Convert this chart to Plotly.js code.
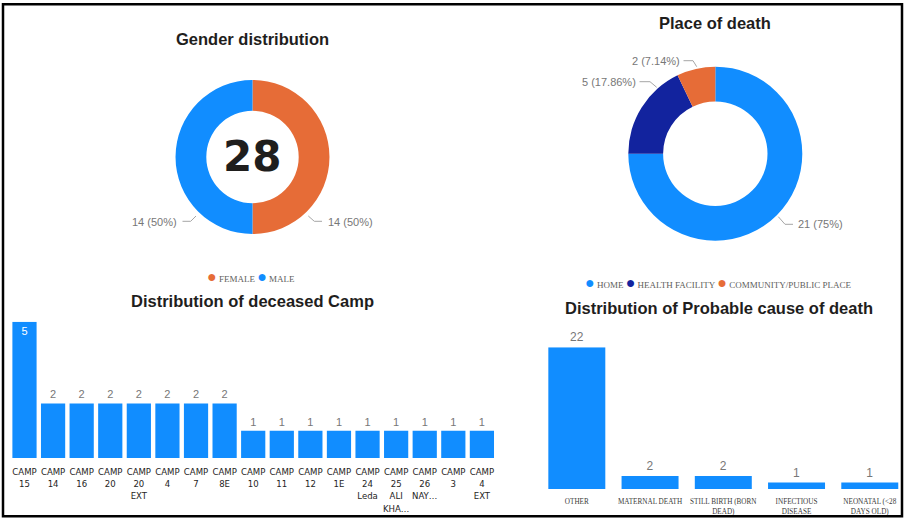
<!DOCTYPE html>
<html>
<head>
<meta charset="utf-8">
<script src="https://cdn.plot.ly/plotly-3.0.1.min.js"></script>
<style>
  html, body { margin: 0; padding: 0; background: #fff; }
  #chart { width: 907px; height: 519px; }
</style>
</head>
<body>
<div id="chart"></div>
<script>
// Gender donut
const genderLabels = ['FEMALE', 'MALE'];
const genderValues = [14, 14];

// Place of death donut
const placeLabels = ['HOME', 'HEALTH FACILITY', 'COMMUNITY/PUBLIC PLACE'];
const placeValues = [21, 5, 2];

// Deceased per camp
const campLabels = ['CAMP 15', 'CAMP 14', 'CAMP 16', 'CAMP 20', 'CAMP 20 EXT', 'CAMP 4', 'CAMP 7', 'CAMP 8E',
    'CAMP 10', 'CAMP 11', 'CAMP 12', 'CAMP 1E', 'CAMP 24 Leda', 'CAMP 25 ALI KHA…', 'CAMP 26 NAY…', 'CAMP 3', 'CAMP 4 EXT'];
const campValues = [5, 2, 2, 2, 2, 2, 2, 2, 1, 1, 1, 1, 1, 1, 1, 1, 1];

// Probable cause of death
const causeLabels = ['OTHER', 'MATERNAL DEATH', 'STILL BIRTH (BORN DEAD)', 'INFECTIOUS DISEASE', 'NEONATAL (<28 DAYS OLD)'];
const causeTicks = ['OTHER', 'MATERNAL DEATH', 'STILL BIRTH (BORN<br>DEAD)', 'INFECTIOUS<br>DISEASE', 'NEONATAL (&lt;28<br>DAYS OLD)'];
const causeValues = [22, 2, 2, 1, 1];

const BLUE = '#118DFF', NAVY = '#12239E', ORANGE = '#E66C37';
const genderColors = { FEMALE: ORANGE, MALE: BLUE };
const placeColors = { 'HOME': BLUE, 'HEALTH FACILITY': NAVY, 'COMMUNITY/PUBLIC PLACE': ORANGE };

// pixel -> paper helpers
const W = 907, H = 519;
const X = px => px / W;
const Y = py => 1 - py / H;

const sum = arr => arr.reduce((a, b) => a + b, 0);
const pctLabel = (v, total) => `${v} (${Math.round(v / total * 10000) / 100}%)`;

const titleFont = { family: 'Liberation Sans, Arial, sans-serif', size: 16.5, color: '#1f1e1d' };
const labelFont = { family: 'Liberation Sans, Arial, sans-serif', size: 11, color: '#777777' };
const legendFont = { family: 'Liberation Serif, Times New Roman, serif', size: 9, color: '#605E5C' };

const data = [
    {
        type: 'pie',
        labels: genderLabels,
        values: genderValues,
        hole: 0.6,
        sort: false,
        direction: 'clockwise',
        rotation: 0,
        marker: { colors: genderLabels.map(l => genderColors[l]), line: { width: 0 } },
        textinfo: 'none',
        showlegend: false,
        domain: { x: [X(175.5), X(329.5)], y: [Y(234), Y(80)] }
    },
    {
        type: 'pie',
        labels: placeLabels,
        values: placeValues,
        hole: 0.6,
        sort: false,
        direction: 'clockwise',
        rotation: 0,
        marker: { colors: placeLabels.map(l => placeColors[l]), line: { width: 0 } },
        textinfo: 'none',
        showlegend: false,
        domain: { x: [X(628.3), X(802.3)], y: [Y(240.7), Y(66.7)] }
    },
    {
        type: 'bar',
        x: campLabels,
        y: campValues,
        xaxis: 'x',
        yaxis: 'y',
        width: 0.847,
        marker: { color: BLUE },
        text: campValues.map(String),
        textposition: campValues.map(v => v === Math.max(...campValues) ? 'inside' : 'outside'),
        insidetextanchor: 'end',
        textangle: 0,
        insidetextfont: { family: labelFont.family, size: 11, color: '#ffffff' },
        outsidetextfont: labelFont,
        cliponaxis: false,
        hoverinfo: 'x+y'
    },
    {
        type: 'bar',
        x: causeLabels,
        y: causeValues,
        xaxis: 'x2',
        yaxis: 'y2',
        width: 0.778,
        marker: { color: BLUE },
        text: causeValues.map(String),
        textposition: 'outside',
        textangle: 0,
        outsidetextfont: { family: labelFont.family, size: 12, color: '#777777' },
        cliponaxis: false,
        hoverinfo: 'x+y'
    }
];

const gTotal = sum(genderValues);
const pTotal = sum(placeValues);

const dot = c => `<span style="color:${c};font-size:16px">●</span>`;

const annotations = [
    // titles
    { text: '<b>Gender distribution</b>', x: X(252.5), y: Y(39), font: titleFont },
    { text: '<b>Place of death</b>', x: X(715.3), y: Y(23), font: titleFont },
    { text: '<b>Distribution of deceased Camp</b>', x: X(252), y: Y(301), font: titleFont },
    { text: '<b>Distribution of Probable cause of death</b>', x: X(719), y: Y(308), font: titleFont },
    // donut centre total
    { text: '<b>' + gTotal + '</b>', x: X(252), y: Y(156.5),
      font: { family: 'DejaVu Sans, sans-serif', size: 42, color: '#1f1e1d' } },
    // gender slice labels
    { text: pctLabel(genderValues[0], gTotal), x: X(325.7), y: Y(221.5), xanchor: 'left', font: labelFont },
    { text: pctLabel(genderValues[1], gTotal), x: X(178.5), y: Y(221.5), xanchor: 'right', font: labelFont },
    // place slice labels
    { text: pctLabel(placeValues[0], pTotal), x: X(796), y: Y(224.3), xanchor: 'left', font: labelFont },
    { text: pctLabel(placeValues[1], pTotal), x: X(637.5), y: Y(81.7), xanchor: 'right', font: labelFont },
    { text: pctLabel(placeValues[2], pTotal), x: X(681.7), y: Y(60.7), xanchor: 'right', font: labelFont },
    // legends
    { text: genderLabels.map(l => dot(genderColors[l]) + ' ' + l).join(' '), x: X(251.5), y: Y(276.7), font: legendFont },
    { text: placeLabels.map(l => dot(placeColors[l]) + ' ' + l).join(' '), x: X(583), y: Y(282.7), xanchor: 'left', font: legendFont }
].map(a => Object.assign({ xref: 'paper', yref: 'paper', showarrow: false, xanchor: 'center', yanchor: 'middle' }, a));

const leader = pts => ({
    type: 'path', xref: 'paper', yref: 'paper',
    path: pts.map((p, i) => (i ? 'L' : 'M') + X(p[0]) + ',' + Y(p[1])).join(' '),
    line: { color: '#A6A6A6', width: 1 }
});

const shapes = [
    leader([[308.3, 216], [314.3, 221.3], [322, 221.3]]),
    leader([[196, 216], [190.7, 221.3], [182.5, 221.3]]),
    leader([[778.3, 216.7], [785, 224.3], [793, 224.3]]),
    leader([[656.7, 87.3], [650, 81.7], [639.5, 81.7]]),
    leader([[696.7, 66.7], [693, 60.7], [683.5, 60.7]]),
    // outer frame
    { type: 'rect', xref: 'paper', yref: 'paper', x0: X(3), x1: X(902), y0: Y(4.3), y1: Y(516.3),
      line: { color: '#000000', width: 2.5 } }
];

const layout = {
    width: W,
    height: H,
    margin: { l: 0, r: 0, t: 0, b: 0 },
    paper_bgcolor: '#ffffff',
    plot_bgcolor: 'rgba(0,0,0,0)',
    showlegend: false,
    font: { family: 'Liberation Sans, Arial, sans-serif', color: '#605E5C' },
    xaxis: {
        domain: [X(10.2), X(496.2)],
        anchor: 'y',
        type: 'category',
        tickvals: campLabels,
        ticktext: campLabels.map(c => c.split(' ').join('<br>')),
        tickangle: 0,
        ticks: '',
        ticklabelstandoff: 6,
        showgrid: false,
        zeroline: false,
        showline: false,
        tickfont: { family: 'Liberation Sans Narrow, DejaVu Sans Condensed, Liberation Sans, sans-serif', size: 9.5, color: '#252423' },
        fixedrange: true
    },
    yaxis: { domain: [Y(458), Y(321.7)], anchor: 'x', range: [0, 5], visible: false, fixedrange: true },
    xaxis2: {
        domain: [X(540.2), X(906.4)],
        anchor: 'y2',
        type: 'category',
        tickvals: causeLabels,
        ticktext: causeTicks,
        tickangle: 0,
        ticks: '',
        ticklabelstandoff: 7,
        showgrid: false,
        zeroline: false,
        showline: false,
        tickfont: { family: 'Liberation Serif, Times New Roman, serif', size: 7.2, color: '#3b3a39' },
        fixedrange: true
    },
    yaxis2: { domain: [Y(489), Y(347.3)], anchor: 'x2', range: [0, 22], visible: false, fixedrange: true },
    annotations: annotations,
    shapes: shapes
};

Plotly.newPlot('chart', data, layout, { displayModeBar: false, staticPlot: true });
</script>
</body>
</html>
